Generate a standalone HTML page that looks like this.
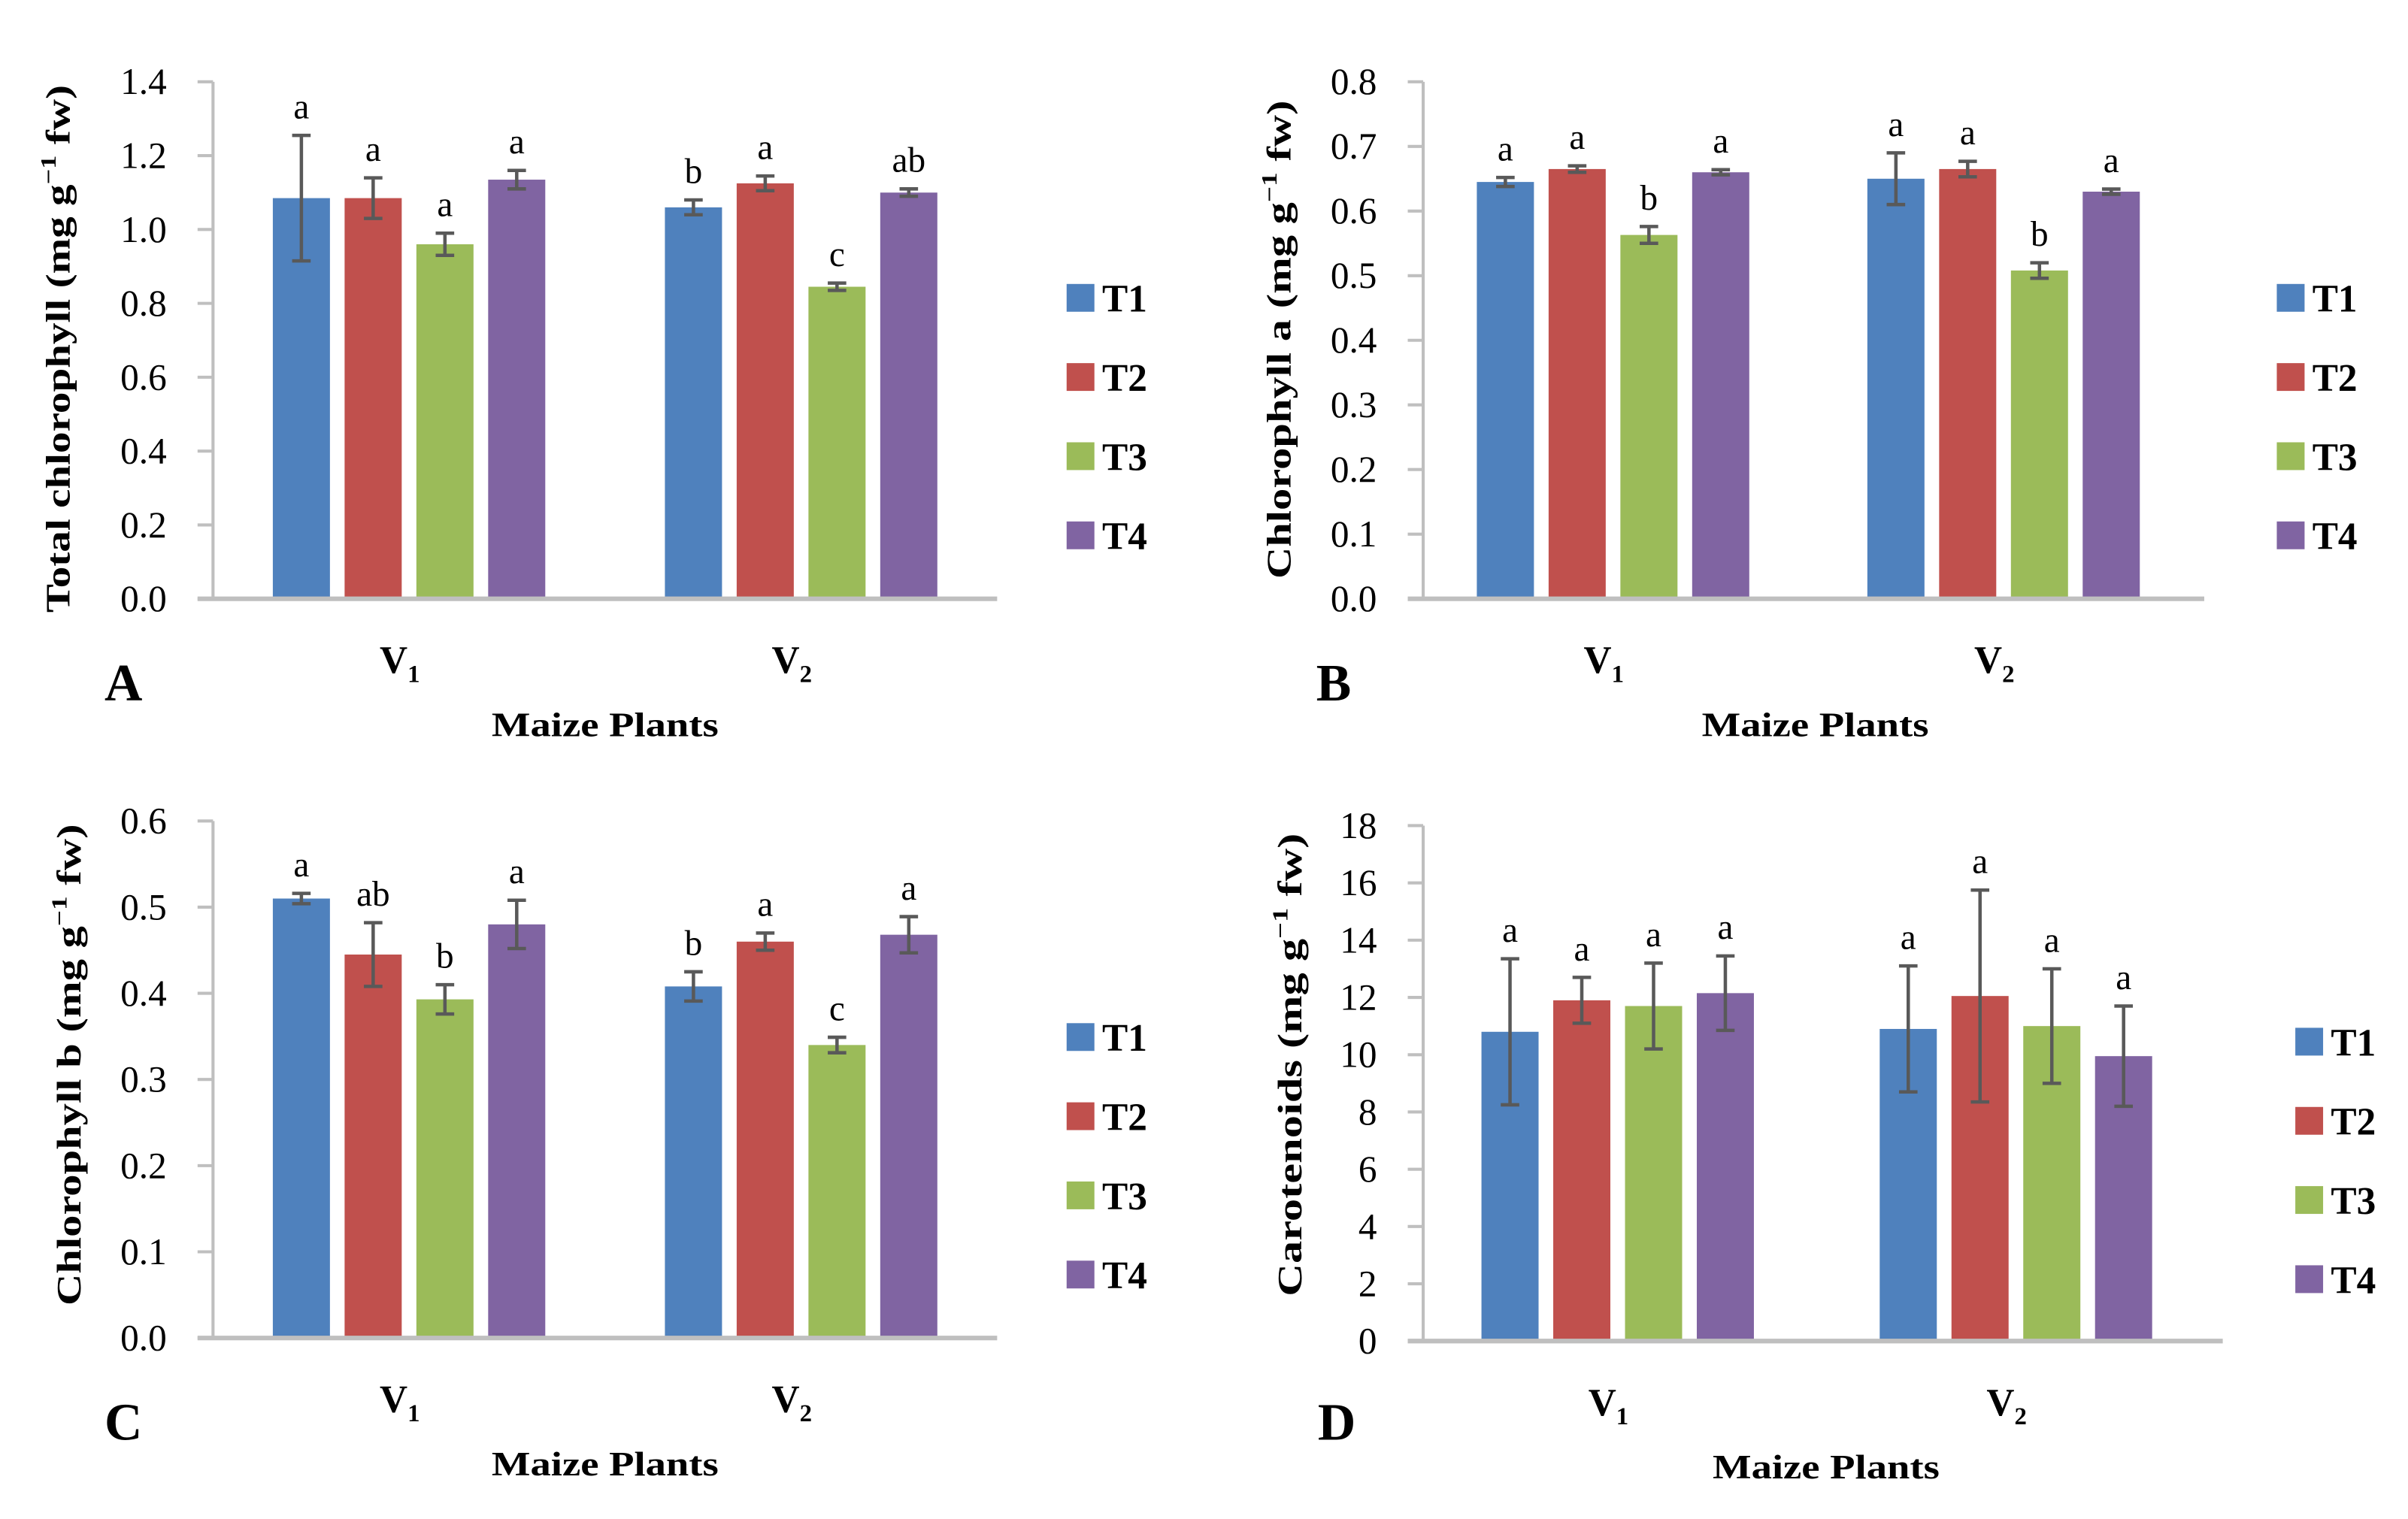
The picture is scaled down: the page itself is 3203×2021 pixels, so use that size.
<!DOCTYPE html>
<html><head><meta charset="utf-8">
<style>
html,body{margin:0;padding:0;background:#fff;}
svg{display:block;}
text{font-family:"Liberation Serif",serif;fill:#000;}
</style></head>
<body>
<svg id="fig" width="3203" height="2021" viewBox="0 0 1560 984.3" xmlns="http://www.w3.org/2000/svg"></svg>
<script>
const series = ["T1","T2","T3","T4"];
const categories = ["V1","V2"];
const colors = ["#4f81bd","#c0504d","#9bbb59","#8064a2"];

const aValues = [[1.085,1.085,0.96,1.135],[1.06,1.125,0.845,1.10]];
const aErrors = [[0.17,0.055,0.03,0.025],[0.02,0.02,0.01,0.01]];
const aLetters = [["a","a","a","a"],["b","a","c","ab"]];
const aTicks = ["0.0","0.2","0.4","0.6","0.8","1.0","1.2","1.4"];

const bValues = [[0.645,0.665,0.563,0.66],[0.65,0.665,0.508,0.63]];
const bErrors = [[0.007,0.005,0.013,0.004],[0.04,0.012,0.012,0.004]];
const bLetters = [["a","a","b","a"],["a","a","b","a"]];
const bTicks = ["0.0","0.1","0.2","0.3","0.4","0.5","0.6","0.7","0.8"];

const cValues = [[0.51,0.445,0.393,0.48],[0.408,0.46,0.34,0.468]];
const cErrors = [[0.006,0.037,0.017,0.028],[0.017,0.01,0.009,0.021]];
const cLetters = [["a","ab","b","a"],["b","a","c","a"]];
const cTicks = ["0.0","0.1","0.2","0.3","0.4","0.5","0.6"];

const dValues = [[10.8,11.9,11.7,12.15],[10.9,12.05,11.0,9.95]];
const dErrors = [[2.55,0.8,1.5,1.3],[2.2,3.7,2.0,1.75]];
const dLetters = [["a","a","a","a"],["a","a","a","a"]];
const dTicks = ["0","2","4","6","8","10","12","14","16","18"];

const NS="http://www.w3.org/2000/svg";
const svg=document.getElementById('fig');
function mk(tag,attrs,parent){const e=document.createElementNS(NS,tag);for(const k in attrs)e.setAttribute(k,attrs[k]);(parent||svg).appendChild(e);return e;}

function panel(p){
  const g=mk('g',{});
  
  
  const tmax=parseFloat(p.ticks[p.ticks.length-1]);
  const y=v=>p.y0-(v/tmax)*(p.y0-p.yTop);
  const x=(c,i)=>p.centers[c]+(i-1.5)*46.5;
  const ya=mk('line',{x1:p.ax,y1:p.yTop,x2:p.ax,y2:p.y0,stroke:'#bfbfbf','stroke-width':2},g);
  
  
  p.ticks.forEach((t,k)=>{
    const v=parseFloat(t);
    const tl=mk('line',{x1:p.ax-10,y1:y(v),x2:p.ax,y2:y(v),stroke:'#bfbfbf','stroke-width':2},g);
    
    
    const tx=mk('text',{x:p.ax-30,y:y(v)+8,'text-anchor':'end','font-size':24},g);
    tx.textContent=t;
    
    
  });
  categories.forEach((cat,c)=>{
    series.forEach((s,i)=>{
      const v=p.values[c][i], e=p.errors[c][i], cx=x(c,i);
      const r=mk('rect',{x:cx-18.5,y:y(v),width:37,height:p.y0-y(v),fill:colors[i]},g);
      
      
      const eb=mk('path',{d:`M${cx},${y(v+e)}V${y(v-e)}M${cx-6},${y(v+e)}H${cx+6}M${cx-6},${y(v-e)}H${cx+6}`,stroke:'#595959','stroke-width':2.2,fill:'none'},g);
      
      
      const lt=mk('text',{x:cx,y:y(v+e)-11,'text-anchor':'middle','font-size':23},g);
      lt.textContent=p.letters[c][i];
      
      
    });
    const cl=mk('text',{x:p.centers[c]-6,y:p.y0+48,'text-anchor':'middle','font-size':25,'font-weight':'bold'},g);
    cl.innerHTML=`V<tspan font-size="16" dy="6">${cat.slice(1)}</tspan>`;
    
    
  });
  const xa=mk('line',{x1:p.ax-10,y1:p.y0,x2:p.xEnd,y2:p.y0,stroke:'#bfbfbf','stroke-width':3},g);
  
  
  series.forEach((s,i)=>{
    const ly=p.legY+i*51.3;
    const sq=mk('rect',{x:p.legX,y:ly-9,width:18,height:18,fill:colors[i]},g);
    
    
    const lt=mk('text',{x:p.legX+23,y:ly+9,'font-size':25,'font-weight':'bold'},g);
    lt.textContent=s;
    
    
  });
  const yt=mk('text',{x:0,y:0,'text-anchor':'middle','font-size':22,'font-weight':'bold',transform:`translate(${p.tx},${p.ty}) rotate(-90)`,textLength:p.tlen,lengthAdjust:'spacingAndGlyphs'},g);
  yt.innerHTML=p.title+'(mg g<tspan font-size="14" dy="-9">−1</tspan><tspan dy="9"> fw)</tspan>';
  
  
  const xt=mk('text',{x:p.mx,y:p.my,'text-anchor':'middle','font-size':22,'font-weight':'bold',textLength:147,lengthAdjust:'spacingAndGlyphs'},g);
  xt.textContent='Maize Plants';
  
  
  const pl=mk('text',{x:p.lx,y:p.ly,'text-anchor':'middle','font-size':34,'font-weight':'bold'},g);
  pl.textContent=p.id;
  
  
}

panel({id:'A',values:aValues,errors:aErrors,letters:aLetters,ticks:aTicks,ax:138,yTop:53,y0:388,xEnd:646,centers:[265,519],legX:691,legY:193,title:'Total chlorophyll  ',tx:45,ty:226,tlen:342,mx:392,my:477,lx:80,ly:454});
panel({id:'B',values:bValues,errors:bErrors,letters:bLetters,ticks:bTicks,ax:922,yTop:53,y0:388,xEnd:1428,centers:[1045,1298],legX:1475,legY:193,title:'Chlorophyll a ',tx:836,ty:220,tlen:310,mx:1176,my:477,lx:864,ly:454});
panel({id:'C',values:cValues,errors:cErrors,letters:cLetters,ticks:cTicks,ax:138,yTop:532,y0:867,xEnd:646,centers:[265,519],legX:691,legY:672,title:'Chlorophyll b ',tx:52,ty:690,tlen:312,mx:392,my:956,lx:80,ly:933});
panel({id:'D',values:dValues,errors:dErrors,letters:dLetters,ticks:dTicks,ax:922,yTop:535,y0:869,xEnd:1440,centers:[1048,1306],legX:1487,legY:675,title:'Carotenoids ',tx:843,ty:690,tlen:300,mx:1183,my:958,lx:866,ly:933});
</script>
</body></html>
